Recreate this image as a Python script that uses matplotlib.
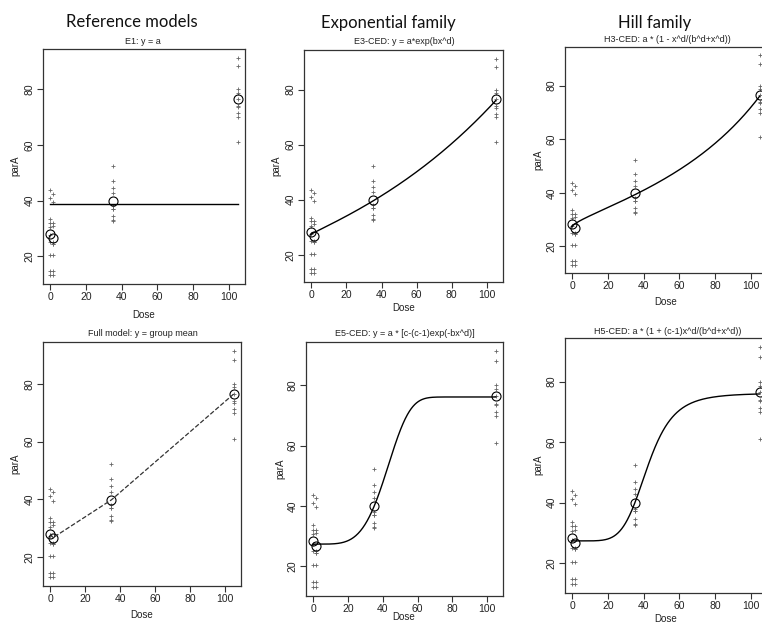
import matplotlib
matplotlib.use("Agg")
import matplotlib.pyplot as plt
import numpy as np

# --- data ---
doses = [0, 1.5, 35, 105]
obs_d0 = [43.7, 41.1, 33.5, 32.1, 30.6, 27.5, 25.0, 20.4, 14.7, 13.2]
obs_d1 = [42.5, 39.6, 31.0, 32.1, 24.5, 24.5, 25.0, 20.4, 14.7, 13.2]
obs_d35 = [52.3, 46.9, 44.5, 42.7, 37.1, 37.1, 34.4, 33.0, 32.6, 38.0]
obs_d105 = [91.3, 88.2, 80.0, 78.7, 76.5, 73.9, 73.5, 71.3, 69.9, 61.0]
groups = [obs_d0, obs_d1, obs_d35, obs_d105]

# fitted parameters (estimated from the curves)
e1_a = 38.8
e3_a, e3_b, e3_d = 27.5, 0.0128, 0.94
h3_a, h3_bd, h3_d = 27.5, -38.34, 0.687
e5_a, e5_b, e5_c, e5_d = 27.3, 3.345e-8, 2.79, 4.5
h5_a, h5_b, h5_c, h5_d = 27.3, 42.1, 2.79, 5.73

W, H = 762, 625
fig = plt.figure(figsize=(W / 100, H / 100), dpi=100)
small = ["Liberation Sans", "DejaVu Sans"]


def rect(l, t, r, b):
    return [l / W, 1 - b / H, (r - l) / W, (b - t) / H]


def px_text(x, y, s, **kw):
    fig.text(x / W, 1 - y / H, s, ha="center", va="center", **kw)


def panel(box, title, title_xy, dose_xy, para_xy):
    ax = fig.add_axes(rect(*box))
    for g, d in zip(groups, doses):
        ax.plot([d] * len(g), g, "+", ms=3, mew=0.6, color="#666666")
    means = [np.mean(g) for g in groups]
    ax.plot(doses, means, "o", ms=6.5, mfc="none", mec="black", mew=0.8)
    allv = np.concatenate(groups)
    r = allv.max() - allv.min()
    ax.set_ylim(allv.min() - 0.04 * r, allv.max() + 0.04 * r)
    ax.set_xlim(-0.04 * 105, 105 * 1.04)
    ax.set_xticks([0, 20, 40, 60, 80, 100])
    ax.set_yticks([20, 40, 60, 80])
    for s in ax.spines.values():
        s.set_color("#333333")
        s.set_linewidth(0.9)
    ax.tick_params(direction="out", length=4, width=0.8, color="#333333",
                   labelsize=7.5, labelcolor="#222222", pad=2)
    ax.tick_params(axis="y", labelrotation=90)
    for lab in ax.get_yticklabels():
        lab.set_va("center")
        lab.set_family(small)
    for lab in ax.get_xticklabels():
        lab.set_family(small)
    px_text(*title_xy, title, fontsize=6.5, family=small, color="#222222")
    px_text(*dose_xy, "Dose", fontsize=7, family=small, color="#222222")
    px_text(*para_xy, "parA", fontsize=7, family=small, color="#222222",
            rotation=90)
    return ax


x = np.linspace(0, 105, 400)

# Reference models
ax = panel((43, 49, 245, 284), "E1: y = a", (143, 42), (144, 315), (15, 166))
ax.plot([0, 105], [e1_a, e1_a], color="black", lw=1)

ax = panel((43, 342, 241, 586), "Full model: y = group mean", (143, 333),
           (142, 615), (15, 464))
ax.plot(doses, [np.mean(g) for g in groups], "--", color="#333333", lw=0.9)

# Exponential family
ax = panel((304, 50, 503, 282), "E3-CED: y = a*exp(bx^d)", (404, 42),
           (404, 308), (276, 166))
ax.plot(x, e3_a * np.exp(e3_b * x ** e3_d), color="black", lw=1)

ax = panel((306, 342, 503, 596), "E5-CED: y = a * [c-(c-1)exp(-bx^d)]",
           (405, 334), (404, 617), (280, 469))
ax.plot(x, e5_a * (e5_c - (e5_c - 1) * np.exp(-e5_b * x ** e5_d)),
        color="black", lw=1)

# Hill family
ax = panel((565, 47, 767, 273), "H3-CED: a * (1 - x^d/(b^d+x^d))", (667, 39),
           (666, 302), (538, 160))
ax.plot(x, h3_a * (1 - x ** h3_d / (h3_bd + x ** h3_d)), color="black", lw=1)

ax = panel((565, 338, 767, 593), "H5-CED: a * (1 + (c-1)x^d/(b^d+x^d))",
           (668, 331), (666, 619), (538, 465))
ax.plot(x, h5_a * (1 + (h5_c - 1) * x ** h5_d / (h5_b ** h5_d + x ** h5_d)),
        color="black", lw=1)

big = ["Lato", "DejaVu Sans"]
px_text(132, 22, "Reference models", fontsize=12, family=big, color="#111111")
px_text(388, 23, "Exponential family", fontsize=12, family=big, color="#111111")
px_text(655, 23, "Hill family", fontsize=12, family=big, color="#111111")

fig.savefig("out.png", dpi=100)
